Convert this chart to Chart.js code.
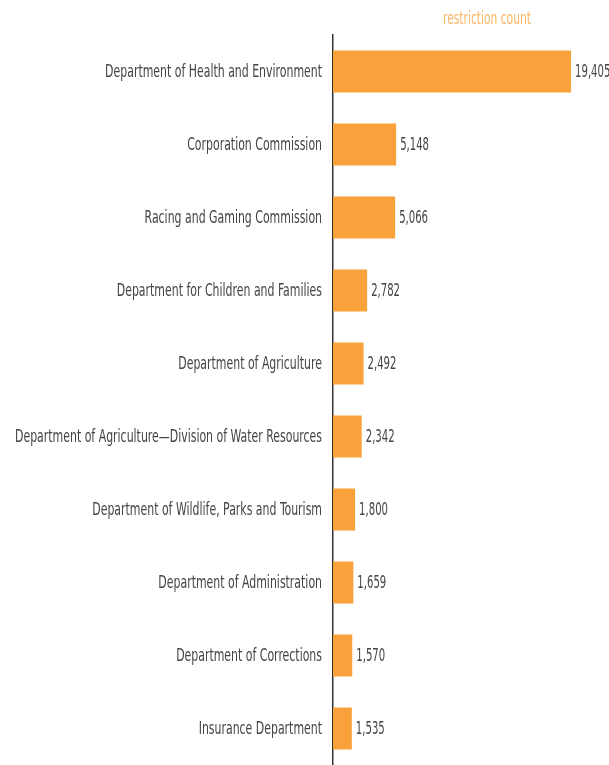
<!DOCTYPE html>
<html>
<head>
<meta charset="utf-8">
<script src="https://cdn.jsdelivr.net/npm/chart.js@4"></script>
<style>
  html, body { margin: 0; padding: 0; background: #fff; }
  #wrap { width: 609px; height: 765px; }
</style>
</head>
<body>
<div id="wrap"><canvas id="chart" width="609" height="765"></canvas></div>
<script>
const agencies = [
  'Department of Health and Environment',
  'Corporation Commission',
  'Racing and Gaming Commission',
  'Department for Children and Families',
  'Department of Agriculture',
  'Department of Agriculture\u2014Division of Water Resources',
  'Department of Wildlife, Parks and Tourism',
  'Department of Administration',
  'Department of Corrections',
  'Insurance Department'
];
const restrictions = [19405, 5148, 5066, 2782, 2492, 2342, 1800, 1659, 1570, 1535];
const seriesTitle = 'restriction count';

const FONT = '"Liberation Sans Narrow", "DejaVu Sans Condensed", sans-serif';

// the original font is much narrower than anything installed, so squeeze it
function squeezedText(ctx, text, x, y, align, squeeze) {
  ctx.save();
  ctx.translate(x, y);
  ctx.scale(squeeze, 1);
  ctx.textAlign = align;
  ctx.fillText(text, 0, 0);
  ctx.restore();
}

const labelPlugin = {
  id: 'barLabels',
  afterDatasetsDraw(chart) {
    const ctx = chart.ctx;
    const meta = chart.getDatasetMeta(0);
    const left = chart.chartArea.left;
    ctx.save();
    ctx.textBaseline = 'middle';
    ctx.fillStyle = '#444';
    ctx.font = '17px ' + FONT;
    meta.data.forEach((bar, i) => {
      squeezedText(ctx, agencies[i], left - 11, bar.y + 1, 'right', 0.715);
      squeezedText(ctx, restrictions[i].toLocaleString('en-US'), bar.x + 4, bar.y + 1, 'left', 0.66);
    });
    ctx.fillStyle = '#fbb565';
    squeezedText(ctx, seriesTitle, 487, 20, 'center', 0.7);
    ctx.restore();
  }
};

new Chart(document.getElementById('chart'), {
  type: 'bar',
  data: {
    labels: agencies,
    datasets: [{
      label: seriesTitle,
      data: restrictions,
      backgroundColor: '#f9a13a',
      borderWidth: 0,
      barPercentage: 0.575,
      categoryPercentage: 1
    }]
  },
  options: {
    indexAxis: 'y',
    responsive: false,
    animation: false,
    layout: { padding: { top: 35, right: 0, bottom: 0, left: 0 } },
    plugins: {
      legend: { display: false },
      title: { display: false },
      tooltip: { enabled: false }
    },
    scales: {
      x: {
        display: false,
        min: 0,
        max: 22500
      },
      y: {
        afterFit(scale) { scale.width = 333; },
        grid: { display: false, drawTicks: false },
        border: { display: true, color: '#333', width: 1.5 },
        ticks: { display: false }
      }
    }
  },
  plugins: [labelPlugin]
});
</script>
</body>
</html>
